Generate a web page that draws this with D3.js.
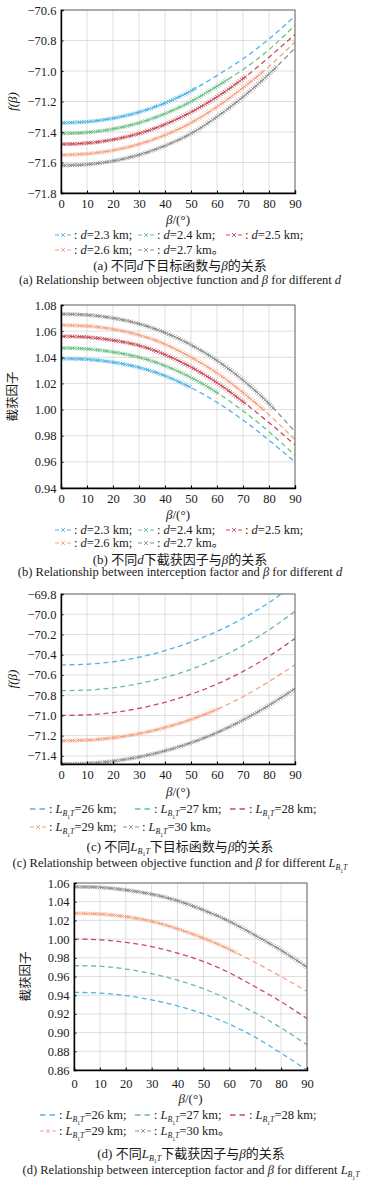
<!DOCTYPE html>
<html><head><meta charset="utf-8">
<script src="https://cdn.jsdelivr.net/npm/d3@7"></script>
<style>body{margin:0;background:#fff}svg{display:block}text{white-space:pre;font-family:'Liberation Serif','Times New Roman','Noto Sans CJK SC',serif}</style>
</head><body><svg id="c" width="372" height="1186"></svg>
<script>
// ---------- data ----------
const beta = [0,10,20,30,40,50,60,70,80,90];
const xTicks = [0,10,20,30,40,50,60,70,80,90];
const dNames = ["2.3","2.4","2.5","2.6","2.7"];
const lNames = ["26","27","28","29","30"];
const colors = ["#4cb4e7","#6cbf85","#c94b57","#f5a27f","#8d8d8d"];

// (a) objective function vs beta, different d
const objD23 = [-71.34,-71.333,-71.31,-71.27,-71.21,-71.13,-71.03,-70.92,-70.79,-70.64];
const objD24 = [-71.41,-71.403,-71.38,-71.34,-71.28,-71.20,-71.10,-70.99,-70.86,-70.70];
const objD25 = [-71.48,-71.473,-71.45,-71.41,-71.35,-71.27,-71.17,-71.05,-70.91,-70.76];
const objD26 = [-71.55,-71.543,-71.52,-71.48,-71.42,-71.34,-71.235,-71.11,-70.97,-70.81];
const objD27 = [-71.62,-71.613,-71.59,-71.55,-71.49,-71.41,-71.30,-71.17,-71.02,-70.85];
const markEndA = [52,64,71,78,83];
const yTicksA = [-71.8,-71.6,-71.4,-71.2,-71.0,-70.8,-70.6];

// (b) interception factor vs beta, different d
const facD23 = [1.039,1.0384,1.0362,1.0322,1.0258,1.0168,1.0055,0.992,0.9765,0.960];
const facD24 = [1.047,1.0464,1.044,1.040,1.0335,1.0245,1.013,0.999,0.983,0.965];
const facD25 = [1.056,1.0554,1.053,1.049,1.042,1.0325,1.0205,1.006,0.990,0.973];
const facD26 = [1.0645,1.0639,1.0615,1.057,1.050,1.040,1.028,1.013,0.996,0.977];
const facD27 = [1.073,1.0724,1.070,1.0656,1.0588,1.0495,1.0375,1.0225,1.0045,0.983];
const markEndB = [50,61,71,78,82];
const yTicksB = [0.94,0.96,0.98,1.00,1.02,1.04,1.06,1.08];

// (c) objective function vs beta, different L
const objL26 = [-70.50,-70.494,-70.47,-70.425,-70.36,-70.275,-70.17,-70.04,-69.885,-69.70];
const objL27 = [-70.755,-70.749,-70.727,-70.685,-70.625,-70.545,-70.44,-70.31,-70.155,-69.97];
const objL28 = [-71.00,-70.994,-70.972,-70.93,-70.87,-70.79,-70.69,-70.565,-70.415,-70.24];
const objL29 = [-71.25,-71.244,-71.222,-71.18,-71.12,-71.04,-70.94,-70.815,-70.665,-70.50];
const objL30 = [-71.48,-71.474,-71.452,-71.41,-71.35,-71.27,-71.17,-71.045,-70.90,-70.735];
const markEndC = [null,null,null,61,90];
const yTicksC = [-71.4,-71.2,-71.0,-70.8,-70.6,-70.4,-70.2,-70.0,-69.8];

// (d) interception factor vs beta, different L
const facL26 = [0.943,0.9423,0.9395,0.935,0.9285,0.920,0.909,0.895,0.878,0.860];
const facL27 = [0.9715,0.971,0.968,0.963,0.956,0.947,0.935,0.921,0.905,0.887];
const facL28 = [1.000,0.9993,0.9965,0.992,0.985,0.976,0.964,0.949,0.933,0.915];
const facL29 = [1.0275,1.0268,1.024,1.019,1.011,1.001,0.989,0.975,0.960,0.944];
const facL30 = [1.056,1.0553,1.0525,1.048,1.041,1.031,1.019,1.004,0.988,0.970];
const markEndD = [null,null,null,63,90];
const yTicksD = [0.86,0.88,0.90,0.92,0.94,0.96,0.98,1.00,1.02,1.04,1.06];

// ---------- drawing ----------
const SERIF = "'Liberation Serif','Times New Roman','Noto Sans CJK SC',serif";
const svg = d3.select("#c");

function rich(sel, parts, size) {
  let shift = 0;
  parts.forEach(([t, f = ""]) => {
    const lvl = f.includes("c") ? 2 : (f.includes("b") ? 1 : 0);
    const ns = lvl === 2 ? 5.5 : (lvl === 1 ? 3 : 0);
    const fs = lvl === 2 ? size * 0.45 : (lvl === 1 ? size * 0.62 : size);
    sel.append("tspan")
      .attr("dy", ns - shift)
      .style("font-size", fs + "px")
      .style("font-style", f.includes("i") ? "italic" : "normal")
      .text(t);
    shift = ns;
  });
}

const LSUB = (t) => [["L","i"],["B","ib"],["1","c"],["T","ib"],[t]];

function panel(cfg) {
  const g = svg.append("g");
  const x = d3.scaleLinear().domain([0, 90]).range([cfg.left, cfg.right]);
  const y = d3.scaleLinear().domain(cfg.yDomain).range([cfg.bottom, cfg.top]);

  // grid
  g.append("g").selectAll("line").data(xTicks).join("line")
    .attr("x1", d => x(d)).attr("x2", d => x(d))
    .attr("y1", cfg.top).attr("y2", cfg.bottom)
    .attr("stroke", "#d6d6d6").attr("stroke-width", 0.8);
  g.append("g").selectAll("line").data(cfg.yTicks).join("line")
    .attr("y1", d => y(d)).attr("y2", d => y(d))
    .attr("x1", cfg.left).attr("x2", cfg.right)
    .attr("stroke", "#d6d6d6").attr("stroke-width", 0.8);

  // clip
  const cid = "clip" + cfg.id;
  svg.append("clipPath").attr("id", cid).append("rect")
    .attr("x", cfg.left).attr("y", cfg.top)
    .attr("width", cfg.right - cfg.left).attr("height", cfg.bottom - cfg.top);

  const line = d3.line().x(d => x(d[0])).y(d => y(d[1])).curve(d3.curveNatural);
  const sg = g.append("g").attr("clip-path", `url(#${cid})`);
  cfg.series.forEach((vals, i) => {
    const pts = beta.map((b, j) => [b, vals[j]]);
    const p = sg.append("path").attr("d", line(pts))
      .attr("fill", "none").attr("stroke", colors[i])
      .attr("stroke-width", 1.3).attr("stroke-dasharray", "5,3.5");
    const me = cfg.markEnd[i];
    if (me != null) {
      const node = p.node();
      const L = node.getTotalLength();
      const xe = x(me);
      let dstr = "";
      const r = 1.8;
      for (let s = 0; s <= L; s += 2.3) {
        const q = node.getPointAtLength(s);
        if (q.x > xe) break;
        dstr += `M${q.x - r},${q.y - r}L${q.x + r},${q.y + r}M${q.x - r},${q.y + r}L${q.x + r},${q.y - r}`;
      }
      sg.append("path").attr("d", dstr).attr("fill", "none")
        .attr("stroke", colors[i]).attr("stroke-width", 0.8);
    }
  });

  // frame
  g.append("rect").attr("x", cfg.left).attr("y", cfg.top)
    .attr("width", cfg.right - cfg.left).attr("height", cfg.bottom - cfg.top)
    .attr("fill", "none").attr("stroke", "#6a6a6a").attr("stroke-width", 1);

  // axes
  const xa = g.append("g").attr("transform", `translate(0,${cfg.bottom})`)
    .call(d3.axisBottom(x).tickValues(xTicks).tickSize(-2.5).tickPadding(cfg.xPad).tickFormat(d3.format("d")));
  const ya = g.append("g").attr("transform", `translate(${cfg.left},0)`)
    .call(d3.axisLeft(y).tickValues(cfg.yTicks).tickSize(-2.5).tickPadding(4.5).tickFormat(d3.format(cfg.fmt)));
  [xa, ya].forEach(a => {
    a.attr("font-family", null).attr("font-size", null);
    a.select(".domain").attr("stroke", "#000").attr("stroke-width", 1.4);
    a.selectAll(".tick line").attr("stroke", "#000");
    a.selectAll("text").style("font-family", SERIF).style("font-size", "12.5px").attr("fill", "#1a1a1a");
  });

  // y label
  const yl = g.append("text").style("font-size", cfg.ylabelSize + "px")
    .attr("text-anchor", "middle").attr("fill", "#1a1a1a")
    .attr("transform", `translate(${cfg.ylabelX},${(cfg.top + cfg.bottom) / 2}) rotate(-90)`);
  rich(yl, cfg.ylabel, cfg.ylabelSize);

  // x label
  const xl = g.append("text").style("font-size", "13px")
    .attr("text-anchor", "middle").attr("fill", "#1a1a1a")
    .attr("x", (cfg.left + cfg.right) / 2).attr("y", cfg.bottom + cfg.off.xl + 4.5);
  rich(xl, [["β","i"],["/(°)"]], 13);

  // legend
  cfg.legendPos.forEach((row, ri) => {
    row.forEach((lx, k) => {
      const i = ri * 3 + k;
      const cy = cfg.bottom + cfg.off.leg[ri];
      const hasMark = cfg.legendMark[i];
      const lg = g.append("g");
      if (hasMark) {
        lg.append("path").attr("d", `M${lx},${cy}h4M${lx + 12},${cy}h4`)
          .attr("stroke", colors[i]).attr("stroke-width", 1.1);
        lg.append("path").attr("d", `M${lx + 6},${cy - 2}l4,4M${lx + 6},${cy + 2}l4,-4`)
          .attr("stroke", colors[i]).attr("stroke-width", 0.9);
      } else {
        lg.append("path").attr("d", `M${lx},${cy}h5.5M${lx + 9.5},${cy}h5.5`)
          .attr("stroke", colors[i]).attr("stroke-width", 1.3);
      }
      const t = lg.append("text").style("font-size", "12.5px")
        .attr("fill", "#1a1a1a").attr("x", lx + 19).attr("y", cy + 4.3);
      const last = i === 4;
      rich(t, [[": "]].concat(cfg.legendText(i, last)), 12.5);
    });
  });

  // captions
  const c1 = g.append("text").style("font-size", "13px")
    .attr("text-anchor", "middle").attr("fill", "#1a1a1a")
    .attr("x", cfg.capX).attr("y", cfg.bottom + cfg.off.cn + 4.5);
  rich(c1, cfg.capCn, 13);
  const c2 = g.append("text").style("font-size", "12.5px")
    .attr("text-anchor", "middle").attr("fill", "#1a1a1a")
    .attr("x", cfg.capX).attr("y", cfg.bottom + cfg.off.en + 4.3);
  rich(c2, cfg.capEn, 12.5);
}

const dLegend = (i, last) => [["d","i"],[`=${dNames[i]} km${last ? "。" : ";"}`]];
const lLegend = (i, last) => LSUB(`=${lNames[i]} km${last ? "。" : ";"}`);

panel({
  id: "a", left: 61, right: 295, top: 10, bottom: 193, yDomain: [-71.8, -70.6],
  yTicks: yTicksA, fmt: ".1f", xPad: 6,
  series: [objD23, objD24, objD25, objD26, objD27], markEnd: markEndA,
  ylabel: [["f(β)","i"]], ylabelSize: 13, ylabelX: 17,
  off: { xl: 26, leg: [42, 57], cn: 72, en: 87 },
  legendPos: [[55, 138, 226], [55, 138]], legendMark: [1,1,1,1,1], legendText: dLegend,
  capX: 180,
  capCn: [["(a) 不同"],["d","i"],["下目标函数与"],["β","i"],["的关系"]],
  capEn: [["(a) Relationship between objective function and "],["β","i"],[" for different "],["d","i"]]
});

panel({
  id: "b", left: 61, right: 295, top: 305, bottom: 488, yDomain: [0.94, 1.08],
  yTicks: yTicksB, fmt: ".2f", xPad: 6,
  series: [facD23, facD24, facD25, facD26, facD27], markEnd: markEndB,
  ylabel: [["截获因子"]], ylabelSize: 12.5, ylabelX: 17,
  off: { xl: 26, leg: [42, 55], cn: 71, en: 84 },
  legendPos: [[55, 138, 226], [55, 138]], legendMark: [1,1,1,1,1], legendText: dLegend,
  capX: 180,
  capCn: [["(b) 不同"],["d","i"],["下截获因子与"],["β","i"],["的关系"]],
  capEn: [["(b) Relationship between interception factor and "],["β","i"],[" for different "],["d","i"]]
});

panel({
  id: "c", left: 61, right: 295, top: 594, bottom: 764, yDomain: [-71.48, -69.8],
  yTicks: yTicksC, fmt: ".1f", xPad: 6,
  series: [objL26, objL27, objL28, objL29, objL30], markEnd: markEndC,
  ylabel: [["f(β)","i"]], ylabelSize: 13, ylabelX: 17,
  off: { xl: 27, leg: [45, 63], cn: 82, en: 99 },
  legendPos: [[30, 135, 230], [30, 123]], legendMark: [0,0,0,1,1], legendText: lLegend,
  capX: 180,
  capCn: [["(c) 不同"]].concat(LSUB("下目标函数与"), [["β","i"],["的关系"]]),
  capEn: [["(c) Relationship between objective function and "],["β","i"],[" for different "]].concat(LSUB(""))
});

panel({
  id: "d", left: 74, right: 307, top: 883, bottom: 1070, yDomain: [0.86, 1.06],
  yTicks: yTicksD, fmt: ".2f", xPad: 9,
  series: [facL26, facL27, facL28, facL29, facL30], markEnd: markEndD,
  ylabel: [["截获因子"]], ylabelSize: 12.5, ylabelX: 30,
  off: { xl: 28, leg: [45, 61], cn: 83, en: 100 },
  legendPos: [[40, 135, 230], [40, 135]], legendMark: [0,0,0,1,1], legendText: lLegend,
  capX: 191,
  capCn: [["(d) 不同"]].concat(LSUB("下截获因子与"), [["β","i"],["的关系"]]),
  capEn: [["(d) Relationship between interception factor and "],["β","i"],[" for different "]].concat(LSUB(""))
});
</script></body></html>
